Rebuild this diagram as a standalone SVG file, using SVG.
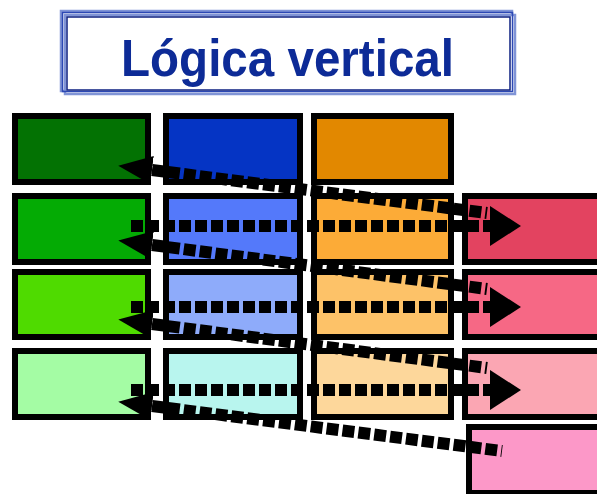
<svg xmlns="http://www.w3.org/2000/svg" width="597" height="494" viewBox="0 0 597 494">
  <defs>
    <style>
      .cell { stroke: #000; stroke-width: 6; }
      .link { fill: none; stroke: #000; stroke-width: 12; stroke-dasharray: 12 4; }
      .title { font-family: "Liberation Sans", Arial, sans-serif; font-weight: bold; font-size: 52px; fill: #0d2b97; }
    </style>
    <!-- arrowhead pointing back into the first column -->
    <marker id="headBack" markerUnits="userSpaceOnUse" markerWidth="40" markerHeight="32" refX="0" refY="16" orient="auto-start-reverse" viewBox="0 0 40 32">
      <path d="M0,2 L34,16 L0,30 Z" fill="#000"/>
    </marker>
    <!-- arrowhead pointing into the last column -->
    <marker id="headFwd" markerUnits="userSpaceOnUse" markerWidth="36" markerHeight="44" refX="0" refY="22" orient="auto" viewBox="0 0 36 44">
      <path d="M0,2 L31,22 L0,42 Z" fill="#000"/>
    </marker>
  </defs>

  <rect width="597" height="494" fill="#fff"/>

  <!-- heading panel with doubled frame -->
  <g id="heading">
    <rect x="61" y="11" width="451" height="80" fill="none" stroke="#8094d6" stroke-width="2.5"/>
    <rect x="65" y="15" width="450" height="79" fill="#fff" stroke="#8094d6" stroke-width="2.5"/>
    <rect x="62.5" y="12.5" width="450" height="79" fill="none" stroke="#2c48b4" stroke-width="1.5"/>
    <rect x="67" y="17" width="443" height="73" fill="#fff" stroke="#0d1f80" stroke-width="1.5"/>
    <text class="title" x="121" y="76" textLength="333" lengthAdjust="spacingAndGlyphs">Lógica vertical</text>
  </g>

  <!-- column 1 -->
  <g id="c1r1"><rect class="cell" x="15" y="116" width="133" height="66" fill="#037203"/></g>
  <g id="c1r2"><rect class="cell" x="15" y="196" width="133" height="66" fill="#04ab04"/></g>
  <g id="c1r3"><rect class="cell" x="15" y="272" width="133" height="65" fill="#4fdb00"/></g>
  <g id="c1r4"><rect class="cell" x="15" y="351" width="133" height="66" fill="#a4fca4"/></g>

  <!-- column 2 -->
  <g id="c2r1"><rect class="cell" x="166" y="116" width="134" height="66" fill="#0534c4"/></g>
  <g id="c2r2"><rect class="cell" x="166" y="196" width="134" height="66" fill="#5479fa"/></g>
  <g id="c2r3"><rect class="cell" x="166" y="272" width="134" height="65" fill="#8eabfa"/></g>
  <g id="c2r4"><rect class="cell" x="166" y="351" width="134" height="66" fill="#b8f5ee"/></g>

  <!-- column 3 -->
  <g id="c3r1"><rect class="cell" x="314" y="116" width="137" height="66" fill="#e28800"/></g>
  <g id="c3r2"><rect class="cell" x="314" y="196" width="137" height="66" fill="#fcab37"/></g>
  <g id="c3r3"><rect class="cell" x="314" y="272" width="137" height="65" fill="#fdc268"/></g>
  <g id="c3r4"><rect class="cell" x="314" y="351" width="137" height="66" fill="#fdd79b"/></g>

  <!-- column 4 -->
  <g id="c4r2"><rect class="cell" x="465" y="196" width="140" height="66" fill="#e34360"/></g>
  <g id="c4r3"><rect class="cell" x="465" y="272" width="140" height="65" fill="#f66885"/></g>
  <g id="c4r4"><rect class="cell" x="465" y="351" width="140" height="66" fill="#fba6b3"/></g>
  <g id="c4r5"><rect class="cell" x="469" y="427" width="140" height="66" fill="#fc98c8"/></g>

  <!-- dashed links -->
  <g id="links">
    <path class="link" d="M131,226 L490,226" marker-end="url(#headFwd)"/>
    <path class="link" d="M131,307 L490,307" marker-end="url(#headFwd)"/>
    <path class="link" d="M131,390 L490,390" marker-end="url(#headFwd)"/>

    <path class="link" d="M152,170 L487,213" marker-start="url(#headBack)"/>
    <path class="link" d="M152,245 L487,289" marker-start="url(#headBack)"/>
    <path class="link" d="M152,324 L487,368" marker-start="url(#headBack)"/>
    <path class="link" d="M152,406 L502,451" marker-start="url(#headBack)"/>
  </g>
</svg>
